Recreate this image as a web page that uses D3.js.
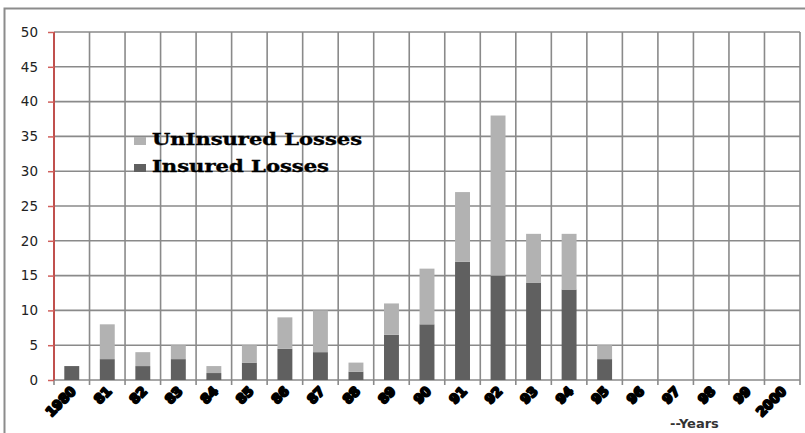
<!DOCTYPE html>
<html>
<head>
<meta charset="utf-8">
<script src="https://cdn.jsdelivr.net/npm/d3@7"></script>
<style>
  body { margin: 0; background: #fff; }
  svg { display: block; }
</style>
</head>
<body>
<div id="chart"></div>
<script>
var years = ["1980", "81", "82", "83", "84", "85", "86", "87", "88", "89", "90",
             "91", "92", "93", "94", "95", "96", "97", "98", "99", "2000"];
var insured = [2, 3, 2, 3, 1, 2.5, 4.5, 4, 1.2, 6.5, 8, 17, 15, 14, 13, 3, 0, 0, 0, 0, 0];
var uninsured = [0, 5, 2, 2, 1, 2.5, 4.5, 6, 1.3, 4.5, 8, 10, 23, 7, 8, 2, 0, 0, 0, 0, 0];
var yTicks = [0, 5, 10, 15, 20, 25, 30, 35, 40, 45, 50];

var svgWidth = 805;
var svgHeight = 433;

var margin = { top: 32, right: 5, bottom: 53, left: 54 };
var width = svgWidth - margin.left - margin.right;
var height = svgHeight - margin.top - margin.bottom;

var darkGrey = "#606060";
var lightGrey = "#b2b2b2";
var gridGrey = "#8a8a8a";

var svg = d3.select("#chart")
    .append("svg")
    .attr("width", svgWidth)
    .attr("height", svgHeight);

// chart frame
svg.append("rect")
    .attr("x", 4.5)
    .attr("y", 8.5)
    .attr("width", svgWidth + 10)
    .attr("height", svgHeight + 10)
    .attr("fill", "none")
    .attr("stroke", "#8c8c8c")
    .attr("stroke-width", 2);

var chartGroup = svg.append("g")
    .attr("transform", `translate(${margin.left}, ${margin.top})`);

var xScale = d3.scaleBand()
    .domain(years)
    .range([0, width])
    .paddingInner(0.58)
    .paddingOuter(0.29);

var yScale = d3.scaleLinear()
    .domain([0, 50])
    .range([height, 0]);

var step = width / years.length;

// horizontal grid
chartGroup.append("g")
    .selectAll("line")
    .data(yTicks)
    .enter()
    .append("line")
    .attr("x1", 0)
    .attr("x2", width)
    .attr("y1", d => yScale(d))
    .attr("y2", d => yScale(d))
    .attr("stroke", gridGrey)
    .attr("stroke-width", 1.6);

// vertical grid at category boundaries, with ticks below the axis
var bounds = d3.range(years.length + 1);
chartGroup.append("g")
    .selectAll("line")
    .data(bounds)
    .enter()
    .append("line")
    .attr("x1", d => d * step)
    .attr("x2", d => d * step)
    .attr("y1", 0)
    .attr("y2", height + 5)
    .attr("stroke", gridGrey)
    .attr("stroke-width", 1.6);

// stacked bars
var stackData = years.map((y, i) => ({ year: y, insured: insured[i], uninsured: uninsured[i] }));
var series = d3.stack().keys(["insured", "uninsured"])(stackData);
var colors = { insured: darkGrey, uninsured: lightGrey };

chartGroup.append("g")
    .selectAll("g")
    .data(series)
    .enter()
    .append("g")
    .attr("fill", d => colors[d.key])
    .selectAll("rect")
    .data(d => d)
    .enter()
    .append("rect")
    .attr("x", d => xScale(d.data.year))
    .attr("width", xScale.bandwidth())
    .attr("y", d => yScale(d[1]))
    .attr("height", d => yScale(d[0]) - yScale(d[1]));

// y axis (red line with ticks)
var leftAxis = d3.axisLeft(yScale).tickValues(yTicks).tickSize(6).tickPadding(10);
var yAxis = chartGroup.append("g").call(leftAxis);
yAxis.select(".domain").attr("stroke", "#c0504d").attr("stroke-width", 2).attr("d", `M0,0V${height}`);
yAxis.selectAll(".tick line").attr("stroke", "#d0605c").attr("stroke-width", 1.5);
yAxis.selectAll(".tick text")
    .attr("font-family", "DejaVu Sans, Verdana, sans-serif")
    .attr("font-size", "13.5px")
    .attr("fill", "#222");

// x labels
chartGroup.append("g")
    .selectAll("text")
    .data(years)
    .enter()
    .append("text")
    .text(d => d)
    .attr("transform", d => `translate(${xScale(d) + xScale.bandwidth() / 2 + 5}, ${height + 12}) rotate(-45)`)
    .attr("text-anchor", "end")
    .attr("font-family", "DejaVu Sans, sans-serif")
    .attr("font-size", "13px")
    .attr("font-weight", "bold")
    .attr("fill", "#000")
    .attr("stroke", "#000")
    .attr("stroke-width", 2)
    .attr("stroke-linejoin", "round");

chartGroup.append("text")
    .attr("x", 616)
    .attr("y", height + 48)
    .attr("font-family", "DejaVu Sans, sans-serif")
    .attr("font-size", "13px")
    .attr("font-weight", "bold")
    .attr("fill", "#333")
    .text("--Years");

// legend
var legendItems = [
    { label: "UnInsured Losses", color: lightGrey, len: 210 },
    { label: "Insured Losses", color: darkGrey, len: 177 }
];
var legend = svg.append("g")
    .selectAll("g")
    .data(legendItems)
    .enter()
    .append("g")
    .attr("transform", (d, i) => `translate(134, ${145 + i * 27})`);

legend.append("rect")
    .attr("x", 0)
    .attr("y", -8)
    .attr("width", 12)
    .attr("height", 8)
    .attr("fill", d => d.color);

legend.append("text")
    .attr("x", 18)
    .attr("y", 0)
    .attr("font-family", "DejaVu Serif, serif")
    .attr("font-size", "17px")
    .attr("font-weight", "bold")
    .attr("textLength", d => d.len)
    .attr("lengthAdjust", "spacingAndGlyphs")
    .attr("fill", "#000")
    .attr("stroke", "#000")
    .attr("stroke-width", 0.4)
    .text(d => d.label);
</script>
</body>
</html>
